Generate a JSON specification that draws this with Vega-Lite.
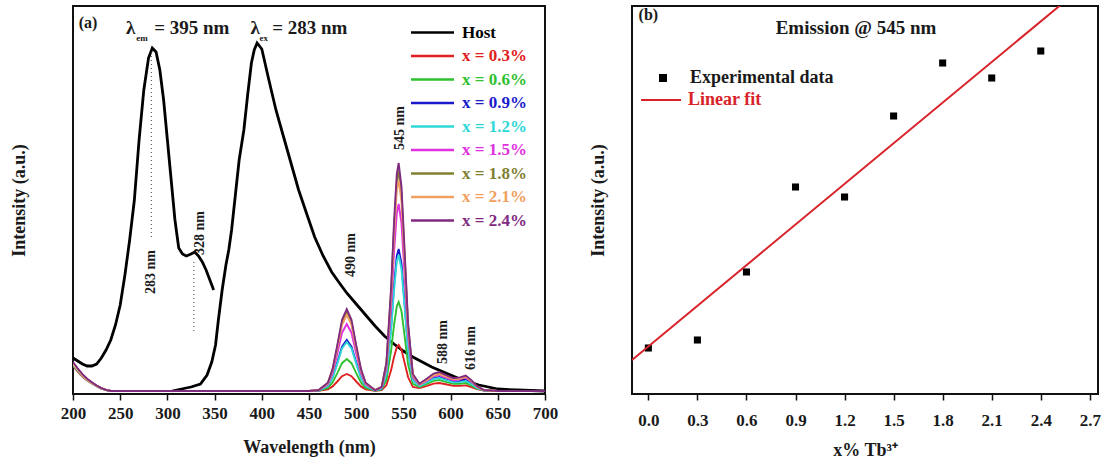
{
  "$schema": "https://vega.github.io/schema/vega-lite/v6.json",
  "padding": {"left": 9, "top": 5, "right": 4, "bottom": 4},
  "spacing": 29,
  "config": {
    "view": {"stroke": "#111111", "strokeWidth": 2},
    "font": "Liberation Serif",
    "axis": {"labelFont": "Liberation Serif", "titleFont": "Liberation Serif", "labelFontWeight": "bold", "titleFontWeight": "bold", "labelColor": "#1a1a1a", "titleColor": "#1a1a1a", "grid": false, "domain": false, "tickColor": "#111111", "tickWidth": 1.5, "labelFontSize": 17, "titleFontSize": 18, "labelOverlap": false, "labelFlush": false},
    "legend": {"labelFont": "Liberation Serif", "labelFontWeight": "bold", "labelFontSize": 17, "padding": 0}
  },
  "resolve": {"scale": {"color": "independent", "shape": "independent"}, "legend": {"color": "independent", "shape": "independent"}},
  "datasets": {
    "spectra": [
      {"s":"Host","c":"exc","w":200,"v":36},{"s":"Host","c":"exc","w":205,"v":33},{"s":"Host","c":"exc","w":210,"v":30},{"s":"Host","c":"exc","w":215,"v":28},{"s":"Host","c":"exc","w":220,"v":28},{"s":"Host","c":"exc","w":225,"v":30},{"s":"Host","c":"exc","w":230,"v":36},{"s":"Host","c":"exc","w":235,"v":44},{"s":"Host","c":"exc","w":240,"v":54},{"s":"Host","c":"exc","w":245,"v":69},{"s":"Host","c":"exc","w":250,"v":89},{"s":"Host","c":"exc","w":255,"v":119},{"s":"Host","c":"exc","w":260,"v":154},{"s":"Host","c":"exc","w":265,"v":194},{"s":"Host","c":"exc","w":270,"v":254},{"s":"Host","c":"exc","w":275,"v":304},{"s":"Host","c":"exc","w":280,"v":336},{"s":"Host","c":"exc","w":284,"v":346},{"s":"Host","c":"exc","w":288,"v":342},{"s":"Host","c":"exc","w":292,"v":324},{"s":"Host","c":"exc","w":296,"v":294},{"s":"Host","c":"exc","w":300,"v":254},{"s":"Host","c":"exc","w":304,"v":214},{"s":"Host","c":"exc","w":308,"v":174},{"s":"Host","c":"exc","w":312,"v":146},{"s":"Host","c":"exc","w":316,"v":140},{"s":"Host","c":"exc","w":320,"v":138},{"s":"Host","c":"exc","w":325,"v":140},{"s":"Host","c":"exc","w":329,"v":142},{"s":"Host","c":"exc","w":333,"v":138},{"s":"Host","c":"exc","w":337,"v":132},{"s":"Host","c":"exc","w":341,"v":124},{"s":"Host","c":"exc","w":345,"v":114},{"s":"Host","c":"exc","w":349,"v":104},
      {"s":"Host","c":"em","w":305,"v":3},{"s":"Host","c":"em","w":315,"v":5},{"s":"Host","c":"em","w":325,"v":7},{"s":"Host","c":"em","w":335,"v":10},{"s":"Host","c":"em","w":342,"v":19},{"s":"Host","c":"em","w":347,"v":32},{"s":"Host","c":"em","w":351,"v":49},{"s":"Host","c":"em","w":354,"v":74},{"s":"Host","c":"em","w":358,"v":104},{"s":"Host","c":"em","w":362,"v":129},{"s":"Host","c":"em","w":365,"v":144},{"s":"Host","c":"em","w":368,"v":164},{"s":"Host","c":"em","w":372,"v":199},{"s":"Host","c":"em","w":376,"v":234},{"s":"Host","c":"em","w":381,"v":264},{"s":"Host","c":"em","w":385,"v":299},{"s":"Host","c":"em","w":389,"v":331},{"s":"Host","c":"em","w":392,"v":344},{"s":"Host","c":"em","w":395,"v":351},{"s":"Host","c":"em","w":400,"v":345},{"s":"Host","c":"em","w":407,"v":316},{"s":"Host","c":"em","w":415,"v":284},{"s":"Host","c":"em","w":421,"v":264},{"s":"Host","c":"em","w":430,"v":234},{"s":"Host","c":"em","w":439,"v":204},{"s":"Host","c":"em","w":448,"v":179},{"s":"Host","c":"em","w":456,"v":157},{"s":"Host","c":"em","w":465,"v":138},{"s":"Host","c":"em","w":474,"v":122},{"s":"Host","c":"em","w":483,"v":110},{"s":"Host","c":"em","w":490,"v":101},{"s":"Host","c":"em","w":500,"v":90},{"s":"Host","c":"em","w":510,"v":79},{"s":"Host","c":"em","w":520,"v":68},{"s":"Host","c":"em","w":530,"v":58},{"s":"Host","c":"em","w":540,"v":50},{"s":"Host","c":"em","w":550,"v":43},{"s":"Host","c":"em","w":560,"v":37},{"s":"Host","c":"em","w":570,"v":32},{"s":"Host","c":"em","w":580,"v":27},{"s":"Host","c":"em","w":590,"v":23},{"s":"Host","c":"em","w":600,"v":19},{"s":"Host","c":"em","w":610,"v":15},{"s":"Host","c":"em","w":620,"v":12},{"s":"Host","c":"em","w":630,"v":9},{"s":"Host","c":"em","w":640,"v":7},{"s":"Host","c":"em","w":650,"v":5},{"s":"Host","c":"em","w":670,"v":4},{"s":"Host","c":"em","w":700,"v":3},

      {"s":"x = 0.3%","w":200,"v":28},{"s":"x = 0.3%","w":205,"v":22.5},{"s":"x = 0.3%","w":210,"v":17.5},{"s":"x = 0.3%","w":215,"v":13.5},{"s":"x = 0.3%","w":220,"v":10.5},{"s":"x = 0.3%","w":225,"v":7.8},{"s":"x = 0.3%","w":230,"v":5.5},{"s":"x = 0.3%","w":235,"v":4},{"s":"x = 0.3%","w":240,"v":3},{"s":"x = 0.3%","w":450,"v":3},{"s":"x = 0.3%","w":460,"v":3.2},{"s":"x = 0.3%","w":470,"v":4.7},{"s":"x = 0.3%","w":475,"v":7.6},{"s":"x = 0.3%","w":480,"v":12.5},{"s":"x = 0.3%","w":485,"v":17.8},{"s":"x = 0.3%","w":490,"v":20},{"s":"x = 0.3%","w":495,"v":17.8},{"s":"x = 0.3%","w":500,"v":12.5},{"s":"x = 0.3%","w":505,"v":7.6},{"s":"x = 0.3%","w":510,"v":4.7},{"s":"x = 0.3%","w":520,"v":3.2},{"s":"x = 0.3%","w":527,"v":3.8},{"s":"x = 0.3%","w":532,"v":8.7},{"s":"x = 0.3%","w":537,"v":23.9},{"s":"x = 0.3%","w":540,"v":36.8},{"s":"x = 0.3%","w":543,"v":46.8},{"s":"x = 0.3%","w":545,"v":49},{"s":"x = 0.3%","w":548,"v":44.2},{"s":"x = 0.3%","w":551,"v":32.4},{"s":"x = 0.3%","w":555,"v":16.7},{"s":"x = 0.3%","w":560,"v":7.1},{"s":"x = 0.3%","w":567,"v":5.9},{"s":"x = 0.3%","w":575,"v":8.2},{"s":"x = 0.3%","w":582,"v":10.4},{"s":"x = 0.3%","w":588,"v":11},{"s":"x = 0.3%","w":595,"v":9.7},{"s":"x = 0.3%","w":603,"v":8.1},{"s":"x = 0.3%","w":610,"v":8.1},{"s":"x = 0.3%","w":616,"v":8.6},{"s":"x = 0.3%","w":622,"v":6.9},{"s":"x = 0.3%","w":628,"v":4.8},{"s":"x = 0.3%","w":635,"v":3.4},{"s":"x = 0.3%","w":650,"v":3},{"s":"x = 0.3%","w":700,"v":3},

      {"s":"x = 0.6%","w":200,"v":29},{"s":"x = 0.6%","w":205,"v":23.3},{"s":"x = 0.6%","w":210,"v":18.1},{"s":"x = 0.6%","w":215,"v":13.9},{"s":"x = 0.6%","w":220,"v":10.8},{"s":"x = 0.6%","w":225,"v":7.9},{"s":"x = 0.6%","w":230,"v":5.6},{"s":"x = 0.6%","w":235,"v":4},{"s":"x = 0.6%","w":240,"v":3},{"s":"x = 0.6%","w":450,"v":3},{"s":"x = 0.6%","w":460,"v":3.3},{"s":"x = 0.6%","w":470,"v":6.2},{"s":"x = 0.6%","w":475,"v":11.6},{"s":"x = 0.6%","w":480,"v":20.9},{"s":"x = 0.6%","w":485,"v":30.8},{"s":"x = 0.6%","w":490,"v":35},{"s":"x = 0.6%","w":495,"v":30.8},{"s":"x = 0.6%","w":500,"v":20.9},{"s":"x = 0.6%","w":505,"v":11.6},{"s":"x = 0.6%","w":510,"v":6.2},{"s":"x = 0.6%","w":520,"v":3.3},{"s":"x = 0.6%","w":527,"v":4.6},{"s":"x = 0.6%","w":532,"v":14},{"s":"x = 0.6%","w":537,"v":43.4},{"s":"x = 0.6%","w":540,"v":68.3},{"s":"x = 0.6%","w":543,"v":87.7},{"s":"x = 0.6%","w":545,"v":92},{"s":"x = 0.6%","w":548,"v":82.7},{"s":"x = 0.6%","w":551,"v":60},{"s":"x = 0.6%","w":555,"v":29.4},{"s":"x = 0.6%","w":560,"v":10.2},{"s":"x = 0.6%","w":567,"v":7.1},{"s":"x = 0.6%","w":575,"v":10.2},{"s":"x = 0.6%","w":582,"v":13.1},{"s":"x = 0.6%","w":588,"v":14},{"s":"x = 0.6%","w":595,"v":12.2},{"s":"x = 0.6%","w":603,"v":10.1},{"s":"x = 0.6%","w":610,"v":10.1},{"s":"x = 0.6%","w":616,"v":10.9},{"s":"x = 0.6%","w":622,"v":8.5},{"s":"x = 0.6%","w":628,"v":5.5},{"s":"x = 0.6%","w":635,"v":3.6},{"s":"x = 0.6%","w":650,"v":3},{"s":"x = 0.6%","w":700,"v":3},

      {"s":"x = 0.9%","w":200,"v":30},{"s":"x = 0.9%","w":205,"v":24.1},{"s":"x = 0.9%","w":210,"v":18.7},{"s":"x = 0.9%","w":215,"v":14.3},{"s":"x = 0.9%","w":220,"v":11.1},{"s":"x = 0.9%","w":225,"v":8.1},{"s":"x = 0.9%","w":230,"v":5.7},{"s":"x = 0.9%","w":235,"v":4.1},{"s":"x = 0.9%","w":240,"v":3},{"s":"x = 0.9%","w":450,"v":3},{"s":"x = 0.9%","w":460,"v":3.5},{"s":"x = 0.9%","w":470,"v":8.1},{"s":"x = 0.9%","w":475,"v":16.8},{"s":"x = 0.9%","w":480,"v":31.6},{"s":"x = 0.9%","w":485,"v":47.4},{"s":"x = 0.9%","w":490,"v":54},{"s":"x = 0.9%","w":495,"v":47.4},{"s":"x = 0.9%","w":500,"v":31.6},{"s":"x = 0.9%","w":505,"v":16.8},{"s":"x = 0.9%","w":510,"v":8.1},{"s":"x = 0.9%","w":520,"v":3.5},{"s":"x = 0.9%","w":527,"v":5.6},{"s":"x = 0.9%","w":532,"v":20.6},{"s":"x = 0.9%","w":537,"v":67.5},{"s":"x = 0.9%","w":540,"v":107.2},{"s":"x = 0.9%","w":543,"v":138.2},{"s":"x = 0.9%","w":545,"v":145},{"s":"x = 0.9%","w":548,"v":130.1},{"s":"x = 0.9%","w":551,"v":93.9},{"s":"x = 0.9%","w":555,"v":44.9},{"s":"x = 0.9%","w":560,"v":13.9},{"s":"x = 0.9%","w":567,"v":8.3},{"s":"x = 0.9%","w":575,"v":12.1},{"s":"x = 0.9%","w":582,"v":15.9},{"s":"x = 0.9%","w":588,"v":17},{"s":"x = 0.9%","w":595,"v":14.7},{"s":"x = 0.9%","w":603,"v":12.3},{"s":"x = 0.9%","w":610,"v":12.8},{"s":"x = 0.9%","w":616,"v":14.1},{"s":"x = 0.9%","w":622,"v":10.8},{"s":"x = 0.9%","w":628,"v":6.5},{"s":"x = 0.9%","w":635,"v":3.8},{"s":"x = 0.9%","w":650,"v":3},{"s":"x = 0.9%","w":700,"v":3},

      {"s":"x = 1.2%","w":200,"v":29},{"s":"x = 1.2%","w":205,"v":23.3},{"s":"x = 1.2%","w":210,"v":18.1},{"s":"x = 1.2%","w":215,"v":13.9},{"s":"x = 1.2%","w":220,"v":10.8},{"s":"x = 1.2%","w":225,"v":7.9},{"s":"x = 1.2%","w":230,"v":5.6},{"s":"x = 1.2%","w":235,"v":4},{"s":"x = 1.2%","w":240,"v":3},{"s":"x = 1.2%","w":450,"v":3},{"s":"x = 1.2%","w":460,"v":3.5},{"s":"x = 1.2%","w":470,"v":7.9},{"s":"x = 1.2%","w":475,"v":16.2},{"s":"x = 1.2%","w":480,"v":30.4},{"s":"x = 1.2%","w":485,"v":45.6},{"s":"x = 1.2%","w":490,"v":52},{"s":"x = 1.2%","w":495,"v":45.6},{"s":"x = 1.2%","w":500,"v":30.4},{"s":"x = 1.2%","w":505,"v":16.2},{"s":"x = 1.2%","w":510,"v":7.9},{"s":"x = 1.2%","w":520,"v":3.5},{"s":"x = 1.2%","w":527,"v":5.4},{"s":"x = 1.2%","w":532,"v":19.9},{"s":"x = 1.2%","w":537,"v":64.7},{"s":"x = 1.2%","w":540,"v":102.8},{"s":"x = 1.2%","w":543,"v":132.5},{"s":"x = 1.2%","w":545,"v":139},{"s":"x = 1.2%","w":548,"v":124.7},{"s":"x = 1.2%","w":551,"v":90},{"s":"x = 1.2%","w":555,"v":43.1},{"s":"x = 1.2%","w":560,"v":13.4},{"s":"x = 1.2%","w":567,"v":7.9},{"s":"x = 1.2%","w":575,"v":11.5},{"s":"x = 1.2%","w":582,"v":15},{"s":"x = 1.2%","w":588,"v":16},{"s":"x = 1.2%","w":595,"v":13.9},{"s":"x = 1.2%","w":603,"v":11.6},{"s":"x = 1.2%","w":610,"v":11.9},{"s":"x = 1.2%","w":616,"v":13},{"s":"x = 1.2%","w":622,"v":10},{"s":"x = 1.2%","w":628,"v":6.2},{"s":"x = 1.2%","w":635,"v":3.7},{"s":"x = 1.2%","w":650,"v":3},{"s":"x = 1.2%","w":700,"v":3},

      {"s":"x = 1.5%","w":200,"v":31},{"s":"x = 1.5%","w":205,"v":24.8},{"s":"x = 1.5%","w":210,"v":19.2},{"s":"x = 1.5%","w":215,"v":14.8},{"s":"x = 1.5%","w":220,"v":11.4},{"s":"x = 1.5%","w":225,"v":8.3},{"s":"x = 1.5%","w":230,"v":5.8},{"s":"x = 1.5%","w":235,"v":4.1},{"s":"x = 1.5%","w":240,"v":3},{"s":"x = 1.5%","w":450,"v":3},{"s":"x = 1.5%","w":460,"v":3.7},{"s":"x = 1.5%","w":470,"v":9.7},{"s":"x = 1.5%","w":475,"v":21.1},{"s":"x = 1.5%","w":480,"v":40.5},{"s":"x = 1.5%","w":485,"v":61.3},{"s":"x = 1.5%","w":490,"v":70},{"s":"x = 1.5%","w":495,"v":61.3},{"s":"x = 1.5%","w":500,"v":40.5},{"s":"x = 1.5%","w":505,"v":21.1},{"s":"x = 1.5%","w":510,"v":9.7},{"s":"x = 1.5%","w":520,"v":3.7},{"s":"x = 1.5%","w":527,"v":6.4},{"s":"x = 1.5%","w":532,"v":26.2},{"s":"x = 1.5%","w":537,"v":87.9},{"s":"x = 1.5%","w":540,"v":140.3},{"s":"x = 1.5%","w":543,"v":181},{"s":"x = 1.5%","w":545,"v":190},{"s":"x = 1.5%","w":548,"v":170.4},{"s":"x = 1.5%","w":551,"v":122.7},{"s":"x = 1.5%","w":555,"v":58},{"s":"x = 1.5%","w":560,"v":17},{"s":"x = 1.5%","w":567,"v":9.1},{"s":"x = 1.5%","w":575,"v":13.4},{"s":"x = 1.5%","w":582,"v":17.7},{"s":"x = 1.5%","w":588,"v":19},{"s":"x = 1.5%","w":595,"v":16.4},{"s":"x = 1.5%","w":603,"v":13.8},{"s":"x = 1.5%","w":610,"v":14.6},{"s":"x = 1.5%","w":616,"v":16.3},{"s":"x = 1.5%","w":622,"v":12.3},{"s":"x = 1.5%","w":628,"v":7.2},{"s":"x = 1.5%","w":635,"v":4},{"s":"x = 1.5%","w":650,"v":3},{"s":"x = 1.5%","w":700,"v":3},

      {"s":"x = 1.8%","w":200,"v":31},{"s":"x = 1.8%","w":205,"v":24.8},{"s":"x = 1.8%","w":210,"v":19.2},{"s":"x = 1.8%","w":215,"v":14.8},{"s":"x = 1.8%","w":220,"v":11.4},{"s":"x = 1.8%","w":225,"v":8.3},{"s":"x = 1.8%","w":230,"v":5.8},{"s":"x = 1.8%","w":235,"v":4.1},{"s":"x = 1.8%","w":240,"v":3},{"s":"x = 1.8%","w":450,"v":3},{"s":"x = 1.8%","w":460,"v":3.8},{"s":"x = 1.8%","w":470,"v":10.9},{"s":"x = 1.8%","w":475,"v":24.3},{"s":"x = 1.8%","w":480,"v":47.2},{"s":"x = 1.8%","w":485,"v":71.7},{"s":"x = 1.8%","w":490,"v":82},{"s":"x = 1.8%","w":495,"v":71.7},{"s":"x = 1.8%","w":500,"v":47.2},{"s":"x = 1.8%","w":505,"v":24.3},{"s":"x = 1.8%","w":510,"v":10.9},{"s":"x = 1.8%","w":520,"v":3.8},{"s":"x = 1.8%","w":527,"v":7},{"s":"x = 1.8%","w":532,"v":30.3},{"s":"x = 1.8%","w":537,"v":102.9},{"s":"x = 1.8%","w":540,"v":164.5},{"s":"x = 1.8%","w":543,"v":212.4},{"s":"x = 1.8%","w":545,"v":223},{"s":"x = 1.8%","w":548,"v":199.9},{"s":"x = 1.8%","w":551,"v":143.8},{"s":"x = 1.8%","w":555,"v":67.7},{"s":"x = 1.8%","w":560,"v":19.3},{"s":"x = 1.8%","w":567,"v":9.9},{"s":"x = 1.8%","w":575,"v":14.7},{"s":"x = 1.8%","w":582,"v":19.6},{"s":"x = 1.8%","w":588,"v":21},{"s":"x = 1.8%","w":595,"v":18.1},{"s":"x = 1.8%","w":603,"v":15},{"s":"x = 1.8%","w":610,"v":15.7},{"s":"x = 1.8%","w":616,"v":17.4},{"s":"x = 1.8%","w":622,"v":13.1},{"s":"x = 1.8%","w":628,"v":7.6},{"s":"x = 1.8%","w":635,"v":4},{"s":"x = 1.8%","w":650,"v":3},{"s":"x = 1.8%","w":700,"v":3},

      {"s":"x = 2.1%","w":200,"v":30},{"s":"x = 2.1%","w":205,"v":24.1},{"s":"x = 2.1%","w":210,"v":18.7},{"s":"x = 2.1%","w":215,"v":14.3},{"s":"x = 2.1%","w":220,"v":11.1},{"s":"x = 2.1%","w":225,"v":8.1},{"s":"x = 2.1%","w":230,"v":5.7},{"s":"x = 2.1%","w":235,"v":4.1},{"s":"x = 2.1%","w":240,"v":3},{"s":"x = 2.1%","w":450,"v":3},{"s":"x = 2.1%","w":460,"v":3.8},{"s":"x = 2.1%","w":470,"v":10.6},{"s":"x = 2.1%","w":475,"v":23.5},{"s":"x = 2.1%","w":480,"v":45.6},{"s":"x = 2.1%","w":485,"v":69.1},{"s":"x = 2.1%","w":490,"v":79},{"s":"x = 2.1%","w":495,"v":69.1},{"s":"x = 2.1%","w":500,"v":45.6},{"s":"x = 2.1%","w":505,"v":23.5},{"s":"x = 2.1%","w":510,"v":10.6},{"s":"x = 2.1%","w":520,"v":3.8},{"s":"x = 2.1%","w":527,"v":6.8},{"s":"x = 2.1%","w":532,"v":29.2},{"s":"x = 2.1%","w":537,"v":98.8},{"s":"x = 2.1%","w":540,"v":157.9},{"s":"x = 2.1%","w":543,"v":203.9},{"s":"x = 2.1%","w":545,"v":214},{"s":"x = 2.1%","w":548,"v":191.8},{"s":"x = 2.1%","w":551,"v":138},{"s":"x = 2.1%","w":555,"v":65},{"s":"x = 2.1%","w":560,"v":18.6},{"s":"x = 2.1%","w":567,"v":9.5},{"s":"x = 2.1%","w":575,"v":14},{"s":"x = 2.1%","w":582,"v":18.6},{"s":"x = 2.1%","w":588,"v":20},{"s":"x = 2.1%","w":595,"v":17.3},{"s":"x = 2.1%","w":603,"v":14.6},{"s":"x = 2.1%","w":610,"v":15.5},{"s":"x = 2.1%","w":616,"v":17.4},{"s":"x = 2.1%","w":622,"v":13.1},{"s":"x = 2.1%","w":628,"v":7.6},{"s":"x = 2.1%","w":635,"v":4},{"s":"x = 2.1%","w":650,"v":3},{"s":"x = 2.1%","w":700,"v":3},

      {"s":"x = 2.4%","w":200,"v":32},{"s":"x = 2.4%","w":205,"v":25.6},{"s":"x = 2.4%","w":210,"v":19.8},{"s":"x = 2.4%","w":215,"v":15.2},{"s":"x = 2.4%","w":220,"v":11.7},{"s":"x = 2.4%","w":225,"v":8.5},{"s":"x = 2.4%","w":230,"v":5.9},{"s":"x = 2.4%","w":235,"v":4.2},{"s":"x = 2.4%","w":240,"v":3},{"s":"x = 2.4%","w":450,"v":3},{"s":"x = 2.4%","w":460,"v":3.8},{"s":"x = 2.4%","w":470,"v":11.2},{"s":"x = 2.4%","w":475,"v":25.1},{"s":"x = 2.4%","w":480,"v":48.9},{"s":"x = 2.4%","w":485,"v":74.3},{"s":"x = 2.4%","w":490,"v":85},{"s":"x = 2.4%","w":495,"v":74.3},{"s":"x = 2.4%","w":500,"v":48.9},{"s":"x = 2.4%","w":505,"v":25.1},{"s":"x = 2.4%","w":510,"v":11.2},{"s":"x = 2.4%","w":520,"v":3.8},{"s":"x = 2.4%","w":527,"v":7.1},{"s":"x = 2.4%","w":532,"v":31.3},{"s":"x = 2.4%","w":537,"v":106.5},{"s":"x = 2.4%","w":540,"v":170.4},{"s":"x = 2.4%","w":543,"v":220.1},{"s":"x = 2.4%","w":545,"v":231},{"s":"x = 2.4%","w":548,"v":207.1},{"s":"x = 2.4%","w":551,"v":148.9},{"s":"x = 2.4%","w":555,"v":70.1},{"s":"x = 2.4%","w":560,"v":20},{"s":"x = 2.4%","w":567,"v":10.3},{"s":"x = 2.4%","w":575,"v":15.4},{"s":"x = 2.4%","w":582,"v":20.5},{"s":"x = 2.4%","w":588,"v":22},{"s":"x = 2.4%","w":595,"v":18.9},{"s":"x = 2.4%","w":603,"v":15.8},{"s":"x = 2.4%","w":610,"v":16.6},{"s":"x = 2.4%","w":616,"v":18.5},{"s":"x = 2.4%","w":622,"v":13.9},{"s":"x = 2.4%","w":628,"v":7.9},{"s":"x = 2.4%","w":635,"v":4.1},{"s":"x = 2.4%","w":650,"v":3},{"s":"x = 2.4%","w":700,"v":3}
    ],
    "guides": [{"w": 283, "v": 342, "v2": 154}, {"w": 328, "v": 132, "v2": 62}],
    "labelsA": [{"w": 216, "v": 371, "t": "(a)"}],
    "lambdaA": [{"w": 261, "v": 366, "t": "λ"}, {"w": 393, "v": 366, "t": "λ"}],
    "eqA": [{"w": 286, "v": 366, "t": "= 395 nm"}, {"w": 411, "v": 366, "t": "= 283 nm"}],
    "subA": [{"w": 273, "v": 356, "t": "em"}, {"w": 402, "v": 356, "t": "ex"}],
    "peaks": [{"w": 283, "v": 122, "t": "283 nm"}, {"w": 335, "v": 161, "t": "328 nm"}, {"w": 494, "v": 139, "t": "490 nm"}, {"w": 546, "v": 266, "t": "545 nm"}, {"w": 592, "v": 52, "t": "588 nm"}, {"w": 622, "v": 46, "t": "616 nm"}],
    "exp": [
      {"x": 0.0, "v": 46, "k": "Experimental data"}, {"x": 0.3, "v": 54, "k": "Experimental data"}, {"x": 0.6, "v": 122, "k": "Experimental data"}, {"x": 0.9, "v": 207, "k": "Experimental data"}, {"x": 1.2, "v": 197, "k": "Experimental data"}, {"x": 1.5, "v": 278, "k": "Experimental data"}, {"x": 1.8, "v": 331, "k": "Experimental data"}, {"x": 2.1, "v": 316, "k": "Experimental data"}, {"x": 2.4, "v": 343, "k": "Experimental data"}
    ],
    "fit": [{"x": -0.1, "v": 34, "k": "Linear fit"}, {"x": 2.75, "v": 420, "k": "Linear fit"}],
    "labelsB": [{"x": 0.0, "v": 379, "t": "(b)"}],
    "titleB": [{"x": 1.27, "v": 366, "t": "Emission @ 545 nm"}]
  },
  "hconcat": [
    {
      "width": 472,
      "height": 388,
      "layer": [
        {
          "data": {"name": "spectra"},
          "mark": {"type": "line", "clip": true},
          "encoding": {
            "x": {"field": "w", "type": "quantitative", "scale": {"domain": [200, 700], "nice": false, "zero": false},
              "axis": {"title": "Wavelength (nm)", "values": [200,225,250,275,300,325,350,375,400,425,450,475,500,525,550,575,600,625,650,675,700],
                "labelExpr": "datum.value % 50 === 0 ? datum.label : ''",
                "tickSize": {"condition": {"test": "datum.value % 50 === 0", "value": 6}, "value": 3},
                "labelPadding": 5, "titlePadding": 17}},
            "y": {"field": "v", "type": "quantitative", "scale": {"domain": [0, 388], "nice": false},
              "axis": {"title": "Intensity (a.u.)", "ticks": false, "labels": false, "titlePadding": 45}},
            "color": {"field": "s", "type": "nominal",
              "scale": {"domain": ["Host","x = 0.3%","x = 0.6%","x = 0.9%","x = 1.2%","x = 1.5%","x = 1.8%","x = 2.1%","x = 2.4%"],
                "range": ["#000000","#e02020","#30c030","#1a1acc","#30d8d8","#e030e0","#808030","#f0a060","#802a80"]},
              "legend": {"title": null, "orient": "none", "legendX": 351, "legendY": 18, "symbolType": "M-4.3,0H4.3", "symbolSize": 100, "symbolStrokeWidth": 2.5, "labelOffset": 21, "rowPadding": 5.5,
                "encode": {"labels": {"update": {"fill": {"signal": "datum.value === 'Host' ? '#000000' : datum.value === 'x = 0.3%' ? '#e02020' : datum.value === 'x = 0.6%' ? '#30c030' : datum.value === 'x = 0.9%' ? '#1a1acc' : datum.value === 'x = 1.2%' ? '#30d8d8' : datum.value === 'x = 1.5%' ? '#e030e0' : datum.value === 'x = 1.8%' ? '#808030' : datum.value === 'x = 2.1%' ? '#f0a060' : '#802a80'"}}}}}},
            "detail": {"field": "c"},
            "strokeWidth": {"condition": {"test": "datum.s === 'Host'", "value": 2.8}, "value": 1.9}
          }
        },
        {
          "data": {"name": "guides"},
          "mark": {"type": "rule", "strokeDash": [1, 3], "color": "#444444", "strokeWidth": 1},
          "encoding": {"x": {"field": "w", "type": "quantitative"}, "y": {"field": "v", "type": "quantitative"}, "y2": {"field": "v2"}}
        },
        {
          "data": {"name": "labelsA"},
          "mark": {"type": "text", "font": "Liberation Serif", "fontWeight": "bold", "fontSize": 16, "align": "center", "baseline": "middle", "color": "#1a1a1a"},
          "encoding": {"x": {"field": "w", "type": "quantitative"}, "y": {"field": "v", "type": "quantitative"}, "text": {"field": "t"}}
        },
        {
          "data": {"name": "lambdaA"},
          "mark": {"type": "text", "font": "Liberation Serif", "fontWeight": "bold", "fontSize": 19, "align": "center", "baseline": "middle", "color": "#1a1a1a"},
          "encoding": {"x": {"field": "w", "type": "quantitative"}, "y": {"field": "v", "type": "quantitative"}, "text": {"field": "t"}}
        },
        {
          "data": {"name": "eqA"},
          "mark": {"type": "text", "font": "Liberation Serif", "fontWeight": "bold", "fontSize": 19, "align": "left", "baseline": "middle", "color": "#1a1a1a"},
          "encoding": {"x": {"field": "w", "type": "quantitative"}, "y": {"field": "v", "type": "quantitative"}, "text": {"field": "t"}}
        },
        {
          "data": {"name": "subA"},
          "mark": {"type": "text", "font": "Liberation Serif", "fontWeight": "bold", "fontSize": 9, "align": "center", "baseline": "middle", "color": "#1a1a1a"},
          "encoding": {"x": {"field": "w", "type": "quantitative"}, "y": {"field": "v", "type": "quantitative"}, "text": {"field": "t"}}
        },
        {
          "data": {"name": "peaks"},
          "mark": {"type": "text", "font": "Liberation Serif", "fontWeight": "bold", "fontSize": 14, "angle": 270, "align": "center", "baseline": "middle", "color": "#1a1a1a"},
          "encoding": {"x": {"field": "w", "type": "quantitative"}, "y": {"field": "v", "type": "quantitative"}, "text": {"field": "t"}}
        }
      ]
    },
    {
      "width": 466,
      "height": 388,
      "layer": [
        {
          "data": {"name": "exp"},
          "mark": {"type": "point", "filled": true, "color": "#000000", "size": 50, "opacity": 1},
          "encoding": {
            "x": {"field": "x", "type": "quantitative", "scale": {"domain": [-0.1, 2.75], "nice": false, "zero": false},
              "axis": {"title": "x% Tb³⁺", "values": [0,0.15,0.3,0.45,0.6,0.75,0.9,1.05,1.2,1.35,1.5,1.65,1.8,1.95,2.1,2.25,2.4,2.55,2.7],
                "labelExpr": "round(datum.value*100) % 30 === 0 ? format(datum.value, '.1f') : ''",
                "tickSize": {"condition": {"test": "round(datum.value*100) % 30 === 0", "value": 6}, "value": 3},
                "labelPadding": 12, "titlePadding": 13}},
            "y": {"field": "v", "type": "quantitative", "scale": {"domain": [0, 388], "nice": false},
              "axis": {"title": "Intensity (a.u.)", "ticks": false, "labels": false, "titlePadding": 25}},
            "shape": {"field": "k", "type": "nominal", "scale": {"domain": ["Experimental data"], "range": ["square"]},
              "legend": {"title": null, "orient": "none", "legendX": 22, "legendY": 63, "symbolSize": 64, "symbolFillColor": "#000000", "symbolStrokeColor": "#000000", "labelOffset": 18, "labelFontSize": 18, "labelColor": "#1a1a1a"}}
          }
        },
        {
          "data": {"name": "fit"},
          "mark": {"type": "line", "clip": true, "strokeWidth": 2},
          "encoding": {
            "x": {"field": "x", "type": "quantitative"},
            "y": {"field": "v", "type": "quantitative"},
            "color": {"field": "k", "type": "nominal", "scale": {"domain": ["Linear fit"], "range": ["#d8232a"]},
              "legend": {"title": null, "orient": "none", "legendX": 20, "legendY": 85, "symbolType": "M-5,0H5", "symbolSize": 64, "symbolStrokeWidth": 2, "labelOffset": 18, "labelFontSize": 18, "labelColor": "#d8232a"}}
          }
        },
        {
          "data": {"name": "labelsB"},
          "mark": {"type": "text", "font": "Liberation Serif", "fontWeight": "bold", "fontSize": 16, "align": "center", "baseline": "middle", "color": "#1a1a1a"},
          "encoding": {"x": {"field": "x", "type": "quantitative"}, "y": {"field": "v", "type": "quantitative"}, "text": {"field": "t"}}
        },
        {
          "data": {"name": "titleB"},
          "mark": {"type": "text", "font": "Liberation Serif", "fontWeight": "bold", "fontSize": 19, "align": "center", "baseline": "middle", "color": "#1a1a1a"},
          "encoding": {"x": {"field": "x", "type": "quantitative"}, "y": {"field": "v", "type": "quantitative"}, "text": {"field": "t"}}
        }
      ]
    }
  ]
}
